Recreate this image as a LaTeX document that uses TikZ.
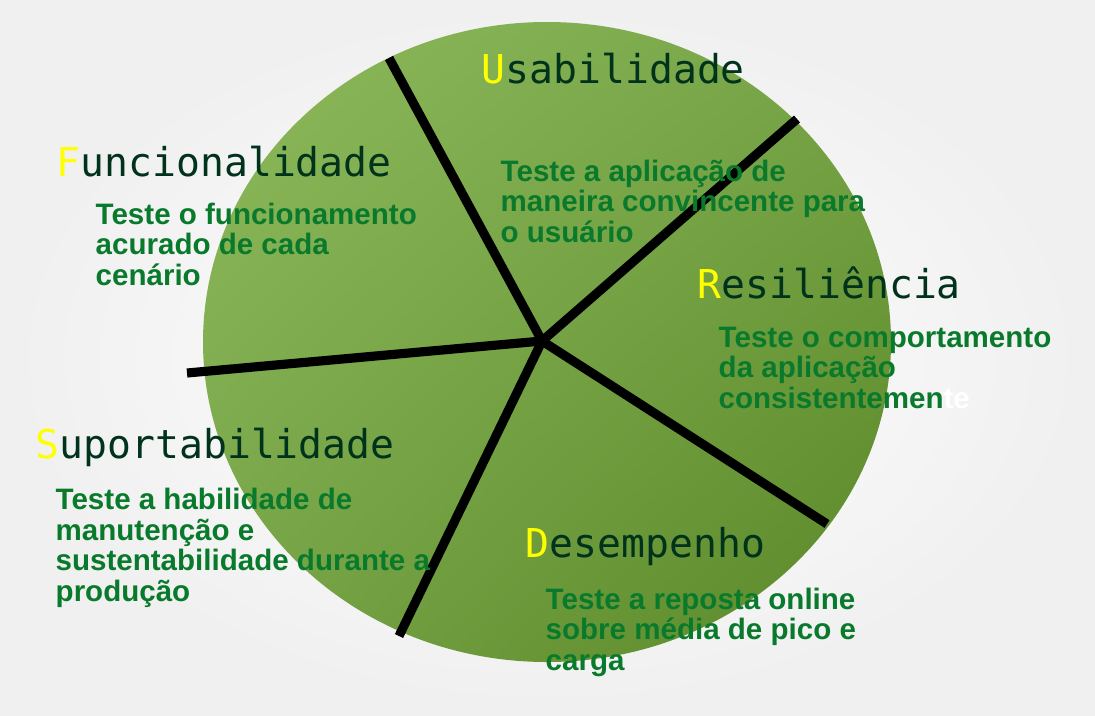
\documentclass[tikz,border=0pt]{standalone}
\usepackage{fontspec}
\setmainfont{Liberation Sans}
\newfontfamily\titlefont{DejaVu Sans Mono}
\usetikzlibrary{calc,shadings}
\definecolor{leafLight}{RGB}{142,186,92}
\definecolor{leafMid}{RGB}{118,164,70}
\definecolor{leafDark}{RGB}{90,136,40}
\definecolor{titleDark}{RGB}{0,50,28}
\definecolor{bodyGreen}{RGB}{9,122,44}
\definecolor{initYellow}{RGB}{255,255,0}
\tikzset{
	spoke/.style={line width=2.6pt, black},
	title/.style={anchor=base west, inner sep=0pt, text=titleDark, font=\titlefont\fontsize{11.3}{14}\selectfont},
	body/.style={anchor=base west, inner sep=0pt, align=left, text=bodyGreen, font=\bfseries\fontsize{8.4}{8.65}\selectfont}
}
\newcommand{\initial}[1]{\textcolor{initYellow}{#1}}
\begin{document}
\begin{tikzpicture}[x=0.01cm,y=-0.01cm]
			% background
			\shade[inner color=white, outer color=black!6] (0,0) rectangle (1095,715);
			\useasboundingbox (0,0) rectangle (1095,715);
			% disc
			\shade[upper left=leafLight, upper right=leafMid, lower left=leafMid, lower right=leafDark] (547,342) ellipse [x radius=344, y radius=320];
			% spokes
			\coordinate (hub) at (542,341);
			\coordinate (tUsa) at (389,58);
			\coordinate (tRes) at (797,119);
			\coordinate (tDes) at (827,524);
			\coordinate (tSup) at (399,636);
			\coordinate (tFun) at (187,373);
			\foreach \t in {tUsa,tRes,tDes,tSup,tFun}
				\draw [spoke] (hub) -- (\t);
			% titles
			\node [title] (usa) at (481,83) {\initial{U}sabilidade};
			\node [title] (fun) at (56,176) {\initial{F}uncionalidade};
			\node [title] (res) at (697,298) {\initial{R}esiliência};
			\node [title] (sup) at (35,458) {\initial{S}uportabilidade};
			\node [title] (des) at (525,557) {\initial{D}esempenho};
			% descriptions (anchored on the last line)
			\node [body] (usaTxt) at (500,242) {Teste a aplicação de\\maneira convincente para\\o usuário};
			\node [body] (funTxt) at (95,285) {Teste o funcionamento\\acurado de cada\\cenário};
			\node [body] (resTxt) at (718,408) {Teste o comportamento\\da aplicação\\consistentemen\textcolor{white}{te}};
			\node [body] (supTxt) at (55,601) {Teste a habilidade de\\manutenção e\\sustentabilidade durante a\\produção};
			\node [body] (desTxt) at (545,670) {Teste a reposta online\\sobre média de pico e\\carga};
		\end{tikzpicture}
\end{document}
